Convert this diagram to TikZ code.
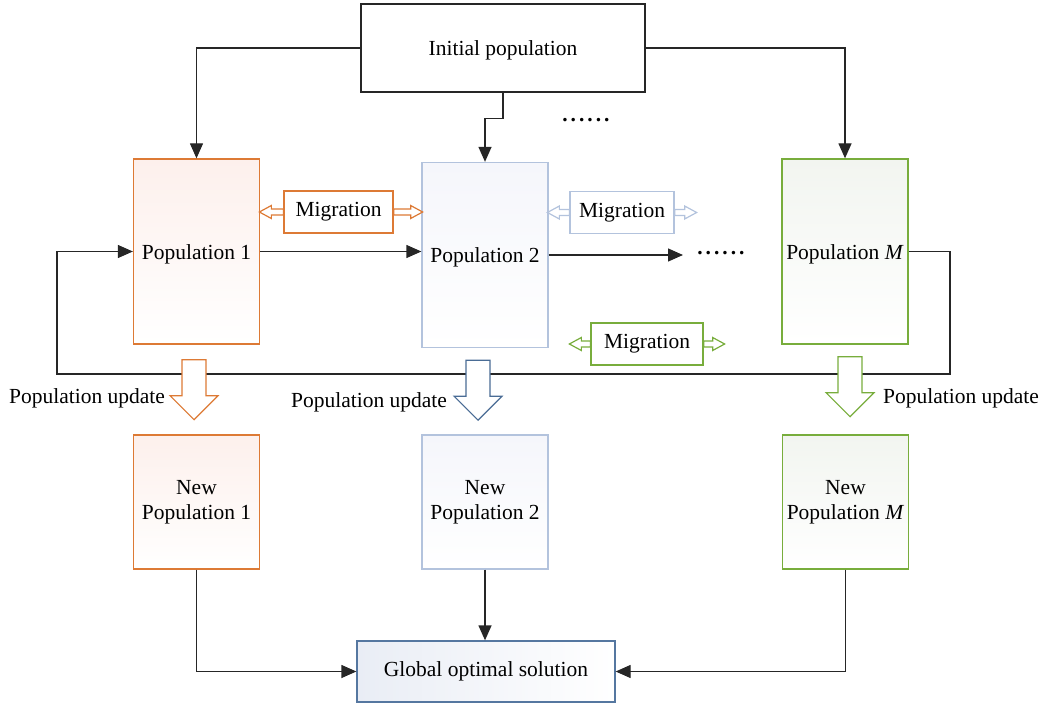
\documentclass[tikz,border=0pt]{standalone}
\usepackage{fontspec}
\setmainfont{Liberation Serif}
\usetikzlibrary{arrows.meta,calc}
\definecolor{cOr}{HTML}{DD7A35}
\definecolor{cOrF}{HTML}{FDF0EC}
\definecolor{cBl}{HTML}{B3C3DD}
\definecolor{cBlF}{HTML}{F5F6FB}
\definecolor{cGr}{HTML}{78AD3C}
\definecolor{cGrF}{HTML}{F2F5F0}
\definecolor{cDb}{HTML}{4A6C95}
\definecolor{cGb}{HTML}{5577A0}
\definecolor{cGbF}{HTML}{E9EDF5}
\newcommand{\migArrow}[4]{%
  \begin{scope}[shift={(#2)}, xscale=#4]
    \draw[draw=#1, line width=1.2pt, fill=white, line join=miter]
      (0,-3) -- (#3-12,-3) -- (#3-12,-6.5) -- (#3,0) -- (#3-12,6.5) -- (#3-12,3) -- (0,3) -- cycle;
  \end{scope}}
\newcommand{\lowtxt}[1]{\raisebox{-7.5pt}[0pt][0pt]{#1}}
\tikzset{
  box/.style={draw, line width=1.3pt, inner sep=0pt, align=center},
  initbox/.style={box, draw=black!85, fill=white, minimum width=284pt, minimum height=88pt},
  popbox/.style={box, minimum width=126pt, minimum height=185pt},
  newbox/.style={box, minimum width=126pt, minimum height=134pt},
  orbox/.style={top color=cOrF, bottom color=white, draw=cOr},
  blbox/.style={top color=cBlF, bottom color=white, draw=cBl},
  grbox/.style={top color=cGrF, bottom color=white, draw=cGr},
  migbox/.style={box, fill=white, minimum height=42pt},
  globbox/.style={box, left color=cGbF, right color=white, draw=cGb, minimum width=258pt, minimum height=61pt},
  plain/.style={inner sep=0pt},
  conn/.style={draw=black!85, line width=1.3pt, -{Triangle[length=15pt,width=13pt]}},
  pics/updarrow/.style={code={
    \draw[draw=#1, line width=1.2pt, fill=white, line join=miter]
      (-12,0) -- (12,0) -- (12,36) -- (24,36) -- (0,60) -- (-24,36) -- (-12,36) -- cycle;}}
}
\begin{document}
\begin{tikzpicture}[x=1pt,y=-1pt, font=\fontsize{21.5}{25}\selectfont]
\useasboundingbox (0,0) rectangle (1046,703);

% main nodes
\node[initbox] (init) at (503,48) {\lowtxt{Initial population}};
\node[popbox, orbox] (p1) at (196.5,251.5) {\lowtxt{Population 1}};
\node[popbox, blbox] (p2) at (485,255) {\lowtxt{Population 2}};
\node[popbox, grbox] (pM) at (845,251.5) {\lowtxt{Population \textit{M}}};

\node[migbox, draw=cOr, minimum width=109pt] (m1) at (338.5,212) {Migration};
\node[migbox, draw=cBl, minimum width=104pt] (m2) at (622,212.5) {Migration};
\node[migbox, draw=cGr, minimum width=112pt] (m3) at (647,344) {Migration};

\node[plain, font=\fontsize{21.5}{25}\selectfont\bfseries] (d1) at (586,120) {.\kern3pt.\kern3pt.\kern3pt.\kern3pt.\kern3pt.};
\node[plain, font=\fontsize{21.5}{25}\selectfont\bfseries] (d2) at (721,253) {.\kern3pt.\kern3pt.\kern3pt.\kern3pt.\kern3pt.};
\coordinate (d2e) at (683,255);

\node[newbox, orbox] (n1) at (196.5,502) {New\\Population 1};
\node[newbox, blbox] (n2) at (485,502) {New\\Population 2};
\node[newbox, grbox] (nM) at (845.5,502) {New\\Population \textit{M}};

\node[globbox] (g) at (486,671.5) {Global optimal solution};

% labels
\node[plain] (u1) at (87,398) {Population update};
\node[plain] (u2) at (369,402) {Population update};
\node[plain] (uM) at (961,398) {Population update};

% connectors from initial population
\draw[conn] (init.west) -| (p1.north);
\draw[conn] (init.east) -| (pM.north);
\draw[conn] (init.south) -- ++(0,26) -| (p2.north);

% between populations
\draw[conn] (p1.east) -- (p1.east -| p2.west);
\draw[conn] (p2.east) -- (p2.east -| d2e);

% feedback loop
\coordinate (fbR) at (950,374);
\coordinate (fbL) at (57,374);
\draw[conn] (pM.east) -| (fbR) -- (fbL) |- (p1.west);

% migration arrows
\migArrow{cOr}{m1.west}{24}{-1}
\migArrow{cOr}{m1.east}{29}{1}
\migArrow{cBl}{m2.west}{22}{-1}
\migArrow{cBl}{m2.east}{22}{1}
\migArrow{cGr}{m3.west}{21}{-1}
\migArrow{cGr}{m3.east}{21}{1}

% population update arrows
\pic at ($(p1.south)+(-2.5,15)$) {updarrow=cOr};
\pic at ($(p2.south)+(-7,12)$) {updarrow=cDb};
\pic at ($(pM.south)+(5,12)$) {updarrow=cGr};

% to global solution
\draw[conn] (n1.south) |- (g.west);
\draw[conn] (nM.south) |- (g.east);
\draw[conn] (n2.south) -- (n2.south |- g.north);
\end{tikzpicture}
\end{document}
